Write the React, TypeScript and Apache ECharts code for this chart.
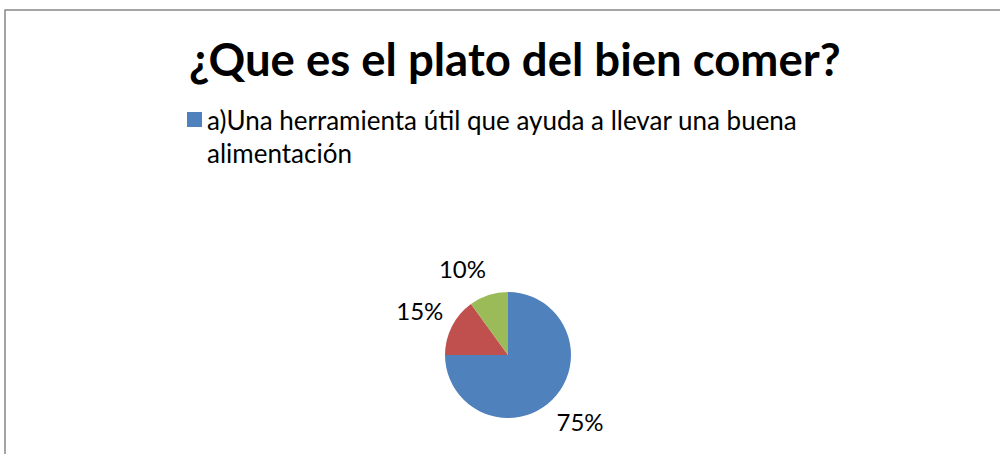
import React, { useEffect, useRef } from "react";
import * as echarts from "echarts";

const titleText = "¿Que es el plato del bien comer?";
const categories = [
  "a)Una herramienta útil que ayuda a llevar una buena alimentación",
  "b)",
  "c)",
];
const values = [75, 15, 10];
const colors = ["#4F81BD", "#C0504D", "#9BBB59"];
const legendShown = [categories[0]];

export default function App() {
  const ref = useRef<HTMLDivElement>(null);
  useEffect(() => {
    document.body.style.margin = "0";
    if (!ref.current) return;
    const chart = echarts.init(ref.current, null, { renderer: "svg" });
    const data = categories.map((name, i) => ({
      name,
      value: values[i],
      itemStyle: { color: colors[i] },
    }));
    const labelData = categories.map((name, i) => ({
      name,
      value: values[i],
      label: i === 2 ? { offset: [-15, 8] } : i === 0 ? { offset: [2, -4] } : {},
    }));
    chart.setOption({
      animation: false,
      backgroundColor: "#ffffff",
      title: {
        text: titleText,
        left: 184,
        top: 30,
        textStyle: {
          fontFamily: "Lato",
          fontWeight: "bold",
          fontSize: 45.5,
          color: "#000000",
        },
      },
      legend: {
        data: legendShown,
        left: 187,
        top: 70,
        padding: 0,
        itemWidth: 15,
        itemHeight: 15,
        icon: "rect",
        selectedMode: false,
        formatter: (name: string) => "\n" + name,
        textStyle: {
          fontFamily: "Lato",
          fontSize: 26,
          color: "#000000",
          width: 615,
          overflow: "break",
          lineHeight: 33,
        },
      },
      graphic: [
        {
          type: "rect",
          shape: { x: 5, y: 10, width: 1200, height: 600 },
          style: { fill: "none", stroke: "#888888", lineWidth: 1.5 },
          silent: true,
        },
      ],
      series: [
        {
          type: "pie",
          center: [508, 355],
          radius: 63,
          startAngle: 90,
          clockwise: true,
          data,
          label: { show: false },
          labelLine: { show: false },
          emphasis: { disabled: true },
          silent: true,
        },
        {
          type: "pie",
          center: [508, 355],
          radius: [63, 129],
          startAngle: 90,
          clockwise: true,
          data: labelData,
          itemStyle: { color: "transparent" },
          label: {
            show: true,
            position: "inside",
            formatter: "{d}%",
            fontFamily: "Lato",
            fontSize: 24,
            color: "#000000",
          },
          labelLine: { show: false },
          emphasis: { disabled: true },
          silent: true,
          percentPrecision: 0,
        },
      ],
    });
    return () => chart.dispose();
  }, []);
  return (
    <div
      ref={ref}
      style={{ position: "absolute", left: 0, top: 0, width: 1000, height: 454 }}
    />
  );
}
